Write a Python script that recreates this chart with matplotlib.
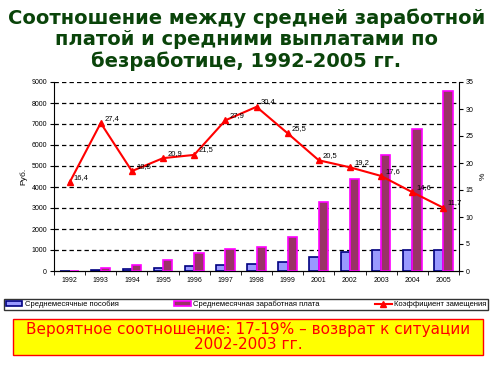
import matplotlib
matplotlib.use("Agg")
import matplotlib.pyplot as plt
from matplotlib.patches import Rectangle
from matplotlib.lines import Line2D
import numpy as np

plt.rcParams['font.family'] = ['Liberation Sans', 'DejaVu Sans']

years = ['1992', '1993', '1994', '1995', '1996', '1997', '1998', '1999',
         '2001', '2002', '2003', '2004', '2005']
benefits = [5, 25, 80, 130, 225, 300, 355, 450, 690, 900, 1010, 1010, 1010]
salary = [16, 130, 270, 520, 870, 1050, 1150, 1620, 3275, 4380, 5530, 6770, 8570]
ratio = [16.4, 27.4, 18.5, 20.9, 21.5, 27.9, 30.4, 25.5, 20.5, 19.2, 17.6, 14.6, 11.7]
ratio_labels = ['16,4', '27,4', '18,5', '20,9', '21,5', '27,9', '30,4', '25,5',
                '20,5', '19,2', '17,6', '14,6', '11,7']

W, H = 493, 370
fig = plt.figure(figsize=(W/100, H/100), dpi=100)
ax = fig.add_axes([54/W, 1-271/H, (459-54)/W, (271-82)/H])

x = np.arange(len(years))
bw = 0.3
ax.bar(x - bw/2, benefits, bw, color='#9999ff', edgecolor='#000080', linewidth=1.2, zorder=3)
ax.bar(x + bw/2, salary, bw, color='#993366', edgecolor='#ff00ff', linewidth=1.2, zorder=3)
ax.set_xlim(-0.5, len(years)-0.5)
ax.set_ylim(0, 9000)
ax.set_yticks(range(0, 9001, 1000))
ax.set_xticks(x)
ax.set_xticklabels(years)
ax.set_xticks(np.arange(-0.5, len(years), 1), minor=True)
ax.tick_params(axis='x', which='major', length=0, labelsize=5, pad=4)
ax.tick_params(axis='x', which='minor', length=3, direction='out')
ax.tick_params(axis='y', labelsize=5, length=3, direction='out', pad=2)
for yv in range(1000, 9001, 1000):
    ax.axhline(yv, color='black', linestyle=(0, (3.5, 2.5)), linewidth=0.9, zorder=1)
ax.spines['top'].set_visible(False)
ax.spines['right'].set_visible(False)
ax.set_ylabel('Руб.', fontsize=6, labelpad=3)

ax2 = ax.twinx()
ax2.plot(x, ratio, color='#ff0000', linewidth=1.5, marker='^', markersize=4, zorder=5)
ax2.set_ylim(0, 35)
ax2.set_yticks(range(0, 36, 5))
ax2.tick_params(axis='y', labelsize=5, length=3, direction='out', pad=2)
ax2.spines['top'].set_visible(False)
ax2.spines['left'].set_visible(False)
ax2.set_ylabel('%', fontsize=6, labelpad=4)
for xi, v, lab in zip(x, ratio, ratio_labels):
    ax2.annotate(lab, (xi, v), xytext=(3, 1), textcoords='offset points',
                 fontsize=5.5, va='bottom', ha='left', zorder=6)

fig.text(0.5, 1-8/H, 'Соотношение между средней заработной\nплатой и средними выплатами по\nбезработице, 1992-2005 гг.',
         ha='center', va='top', fontsize=14, fontweight='bold', color='#0a440a',
         linespacing=1.17, family='DejaVu Sans')

handles = [Rectangle((0, 0), 1, 1, facecolor='#9999ff', edgecolor='#000080', linewidth=1.2),
           Rectangle((0, 0), 1, 1, facecolor='#993366', edgecolor='#ff00ff', linewidth=1.2),
           Line2D([], [], color='#ff0000', linewidth=1.5, marker='^', markersize=4)]
labels = ['Среднемесячные пособия', 'Среднемесячная заработная плата', 'Коэффициент замещения']
leg = fig.legend(handles, labels, loc='center', ncol=3, mode='expand',
                 bbox_to_anchor=(4/W, 1-311/H, 484/W, 13/H), fontsize=5.5,
                 frameon=True, fancybox=False, edgecolor='black', borderpad=0.2,
                 handlelength=2.2, handleheight=0.6, handletextpad=0.3, columnspacing=1.0,
                 borderaxespad=0)
leg.get_frame().set_linewidth(1.0)

fig.patches.append(Rectangle((13/W, 1-355/H), 470/W, 36/H, transform=fig.transFigure,
                             facecolor='#ffff00', edgecolor='#ff0000', linewidth=1.0))
fig.text(248/W, 1-337/H, 'Вероятное соотношение: 17-19% – возврат к ситуации\n2002-2003 гг.',
         ha='center', va='center', fontsize=11, color='#ff0000', linespacing=1.0,
         family='DejaVu Sans')

fig.savefig('out.png', dpi=100)
